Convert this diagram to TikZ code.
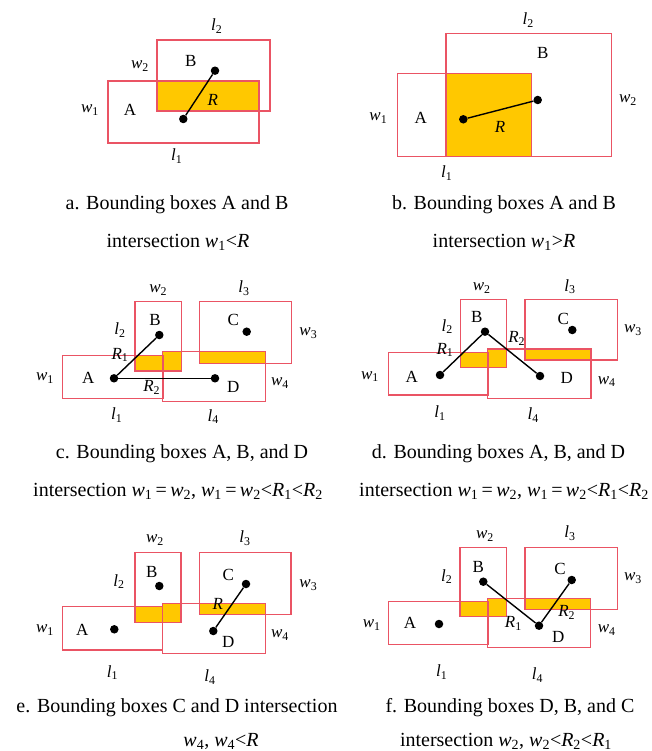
\documentclass[tikz,border=0pt]{standalone}
\usepackage{fontspec}
\setmainfont{Liberation Serif}
\usetikzlibrary{positioning,calc}
\definecolor{boxred}{RGB}{234,84,100}
\definecolor{overlap}{RGB}{255,200,0}
\newcommand{\vlab}[2]{\textit{#1}\textsubscript{#2}}

\begin{document}
\begin{tikzpicture}[x=1pt,y=-1pt]
\tikzset{
  bbox/.style={draw=boxred, line width=1.2pt},
  ovl/.style={fill=overlap},
  dot/.style={circle, fill=black, minimum size=8.5pt, inner sep=0pt},
  lbl/.style={font=\fontsize{17}{19}\selectfont, inner sep=0pt},
  captext/.style={font=\fontsize{20}{24}\selectfont, inner sep=0pt},
  link/.style={line width=1.4pt}
}
\useasboundingbox (0,0) rectangle (651,751);

% a
\fill[ovl] (156.7,80.7) rectangle (259,111);
\draw[bbox, line width=1.7pt] (156.7,40) rectangle (270,111);
\draw[bbox, line width=1.7pt] (108.3,80.7) rectangle (259,142.7);
\node[dot] (aA) at (183.3,119) {};
\node[dot] (aB) at (215,70.7) {};
\draw[link] (aA) -- (aB);
\node[lbl] (al2) at (216.7,26) {\vlab{l}{2}};
\node[lbl] (aw2) at (140,66) {\vlab{w}{2}};
\node[lbl] (aBl) at (190.7,61) {B};
\node[lbl] (aw1) at (90,110) {\vlab{w}{1}};
\node[lbl] (aAl) at (130,110) {A};
\node[lbl] (aR) at (212.7,100) {\textit{R}};
\node[lbl] (al1) at (176.7,156) {\vlab{l}{1}};
\node[captext] (acap1) at (177,205) {a. Bounding boxes A and B};
\node[captext] (acap2) at (178,242) {intersection \vlab{w}{1}<\textit{R}};

% b
\fill[ovl] (446,73.3) rectangle (531.7,156.7);
\draw[bbox] (446,33.3) rectangle (611.7,156.7);
\draw[bbox] (397.3,73.3) rectangle (531.7,156.7);
\node[dot] (bA) at (463.3,119.3) {};
\node[dot] (bB) at (537.7,100) {};
\draw[link] (bA) -- (bB);
\node[lbl] (bl2) at (528.3,20) {\vlab{l}{2}};
\node[lbl] (bBl) at (542.7,53.3) {B};
\node[lbl] (bw2) at (628,100) {\vlab{w}{2}};
\node[lbl] (bw1) at (378.3,118.3) {\vlab{w}{1}};
\node[lbl] (bAl) at (420.7,118.3) {A};
\node[lbl] (bR) at (500,126.7) {\textit{R}};
\node[lbl] (bl1) at (446.7,173) {\vlab{l}{1}};
\node[captext] (bcap1) at (504,205) {b. Bounding boxes A and B};
\node[captext] (bcap2) at (504,242) {intersection \vlab{w}{1}>\textit{R}};

% c
\fill[ovl] (135,355.7) rectangle (163.3,371);
\fill[ovl] (162.7,351.7) rectangle (181.7,371);
\fill[ovl] (199.3,351.7) rectangle (265.7,363.3);
\draw[bbox] (135,301.7) rectangle (181.7,371);
\draw[bbox] (199.3,301.7) rectangle (291.7,363.3);
\draw[bbox] (62.7,355.7) rectangle (163.3,398.3);
\draw[bbox] (162.7,351.7) rectangle (265.7,401.7);
\node[dot] (cA) at (114,378.3) {};
\node[dot] (cB) at (159.3,335) {};
\node[dot] (cC) at (246.7,331.7) {};
\node[dot] (cD) at (215,378.3) {};
\draw[link] (cA) -- (cB);
\draw[link] (cA) -- (cD);
\node[lbl] (cw2) at (158.3,290) {\vlab{w}{2}};
\node[lbl] (cl3) at (244,288.3) {\vlab{l}{3}};
\node[lbl] (cBl) at (155,320) {B};
\node[lbl] (cCl) at (233.3,320) {C};
\node[lbl] (cl2) at (120,330) {\vlab{l}{2}};
\node[lbl] (cw3) at (308.3,333.3) {\vlab{w}{3}};
\node[lbl] (cR1) at (120,355) {\vlab{\textit{R}}{1}};
\node[lbl] (cw1) at (45,378.3) {\vlab{w}{1}};
\node[lbl] (cAl) at (88.3,378.3) {A};
\node[lbl] (cR2) at (151.7,387.3) {\vlab{\textit{R}}{2}};
\node[lbl] (cDl) at (233.3,386.7) {D};
\node[lbl] (cw4) at (280,383.3) {\vlab{w}{4}};
\node[lbl] (cl1) at (116.7,415) {\vlab{l}{1}};
\node[lbl] (cl4) at (213.3,416.7) {\vlab{l}{4}};
\node[captext] (ccap1) at (182,454) {c. Bounding boxes A, B, and D};
\node[captext] (ccap2) at (178,491) {intersection \vlab{w}{1}\,=\,\vlab{w}{2}, \vlab{w}{1}\,=\,\vlab{w}{2}<\vlab{\textit{R}}{1}<\vlab{\textit{R}}{2}};

% d
\fill[ovl] (460.7,352.7) rectangle (488.3,367.7);
\fill[ovl] (487.7,349) rectangle (506.7,367.7);
\fill[ovl] (525,349) rectangle (591,360);
\draw[bbox] (460.7,299.3) rectangle (506.7,367.7);
\draw[bbox] (525,299.3) rectangle (617.7,360);
\draw[bbox] (388.3,352.7) rectangle (488.3,395);
\draw[bbox] (487.7,349) rectangle (591,398.3);
\node[dot] (dA) at (440,375) {};
\node[dot] (dB) at (485,331.7) {};
\node[dot] (dC) at (572.3,330) {};
\node[dot] (dD) at (540,376) {};
\draw[link] (dA) -- (dB);
\draw[link] (dB) -- (dD);
\node[lbl] (dw2) at (481.7,288.3) {\vlab{w}{2}};
\node[lbl] (dl3) at (570,286.7) {\vlab{l}{3}};
\node[lbl] (dBl) at (476.7,316.7) {B};
\node[lbl] (dCl) at (563.3,319.3) {C};
\node[lbl] (dl2) at (447.3,326.7) {\vlab{l}{2}};
\node[lbl] (dw3) at (633,330) {\vlab{w}{3}};
\node[lbl] (dR1) at (445,350) {\vlab{\textit{R}}{1}};
\node[lbl] (dR2) at (516.7,338.3) {\vlab{\textit{R}}{2}};
\node[lbl] (dw1) at (370,376.7) {\vlab{w}{1}};
\node[lbl] (dAl) at (411.7,376.7) {A};
\node[lbl] (dDl) at (566.7,378.3) {D};
\node[lbl] (dw4) at (606.7,381.7) {\vlab{w}{4}};
\node[lbl] (dl1) at (440,413.3) {\vlab{l}{1}};
\node[lbl] (dl4) at (533.3,415) {\vlab{l}{4}};
\node[captext] (dcap1) at (498.5,454) {d. Bounding boxes A, B, and D};
\node[captext] (dcap2) at (504,491) {intersection \vlab{w}{1}\,=\,\vlab{w}{2}, \vlab{w}{1}\,=\,\vlab{w}{2}<\vlab{\textit{R}}{1}<\vlab{\textit{R}}{2}};

% e
\fill[ovl] (135,606.7) rectangle (162.7,622.3);
\fill[ovl] (162.7,603.3) rectangle (181,622.3);
\fill[ovl] (199.3,603.3) rectangle (265.7,614.3);
\draw[bbox] (135,552.7) rectangle (181,622.3);
\draw[bbox] (199.3,552.7) rectangle (291,614.3);
\draw[bbox] (62.7,606.7) rectangle (162.7,650);
\draw[bbox] (162.7,603.3) rectangle (265.7,653.3);
\node[dot] (eA) at (114.3,629.3) {};
\node[dot] (eB) at (159.3,586) {};
\node[dot] (eC) at (246,584) {};
\node[dot] (eD) at (213.3,631) {};
\draw[link] (eC) -- (eD);
\node[lbl] (ew2) at (155,540) {\vlab{w}{2}};
\node[lbl] (el3) at (245,538.3) {\vlab{l}{3}};
\node[lbl] (eBl) at (151.7,571.7) {B};
\node[lbl] (eCl) at (228.3,575) {C};
\node[lbl] (el2) at (119,581.7) {\vlab{l}{2}};
\node[lbl] (ew3) at (308.3,585) {\vlab{w}{3}};
\node[lbl] (eR) at (217.7,604.3) {\textit{R}};
\node[lbl] (ew1) at (45,630) {\vlab{w}{1}};
\node[lbl] (eAl) at (82.3,630) {A};
\node[lbl] (eDl) at (228.3,641.7) {D};
\node[lbl] (ew4) at (280,635) {\vlab{w}{4}};
\node[lbl] (el1) at (112.5,672.5) {\vlab{l}{1}};
\node[lbl] (el4) at (210,677) {\vlab{l}{4}};
\node[captext] (ecap1) at (177,708) {e. Bounding boxes C and D intersection};
\node[captext] (ecap2) at (221,741) {\vlab{w}{4}, \vlab{w}{4}<\textit{R}};

% f
\fill[ovl] (460,601.7) rectangle (488.3,616.7);
\fill[ovl] (487.7,598.3) rectangle (506.7,616.7);
\fill[ovl] (525,598.3) rectangle (590.7,609.3);
\draw[bbox] (460,547.7) rectangle (506.7,616.7);
\draw[bbox] (525,547.7) rectangle (617.3,609.3);
\draw[bbox] (388.3,601.7) rectangle (488.3,644.3);
\draw[bbox] (487.7,598.3) rectangle (590.7,647.7);
\node[dot] (fA) at (439,624) {};
\node[dot] (fB) at (483.3,581.7) {};
\node[dot] (fC) at (571.7,580) {};
\node[dot] (fD) at (539,625.7) {};
\draw[link] (fB) -- (fD);
\draw[link] (fC) -- (fD);
\node[lbl] (fw2) at (485,536) {\vlab{w}{2}};
\node[lbl] (fl3) at (570,533.3) {\vlab{l}{3}};
\node[lbl] (fBl) at (478.3,566.7) {B};
\node[lbl] (fCl) at (560,569) {C};
\node[lbl] (fl2) at (446.7,576.7) {\vlab{l}{2}};
\node[lbl] (fw3) at (633,578) {\vlab{w}{3}};
\node[lbl] (fR2) at (566.7,612.3) {\vlab{\textit{R}}{2}};
\node[lbl] (fR1) at (513.3,623.3) {\vlab{\textit{R}}{1}};
\node[lbl] (fw1) at (371.7,625) {\vlab{w}{1}};
\node[lbl] (fAl) at (410,623.3) {A};
\node[lbl] (fDl) at (558.3,636.7) {D};
\node[lbl] (fw4) at (606.7,630) {\vlab{w}{4}};
\node[lbl] (fl1) at (441.7,672) {\vlab{l}{1}};
\node[lbl] (fl4) at (537.5,675) {\vlab{l}{4}};
\node[captext] (fcap1) at (510,708) {f. Bounding boxes D, B, and C};
\node[captext] (fcap2) at (506,741) {intersection \vlab{w}{2}, \vlab{w}{2}<\vlab{\textit{R}}{2}<\vlab{\textit{R}}{1}};
\end{tikzpicture}
\end{document}
